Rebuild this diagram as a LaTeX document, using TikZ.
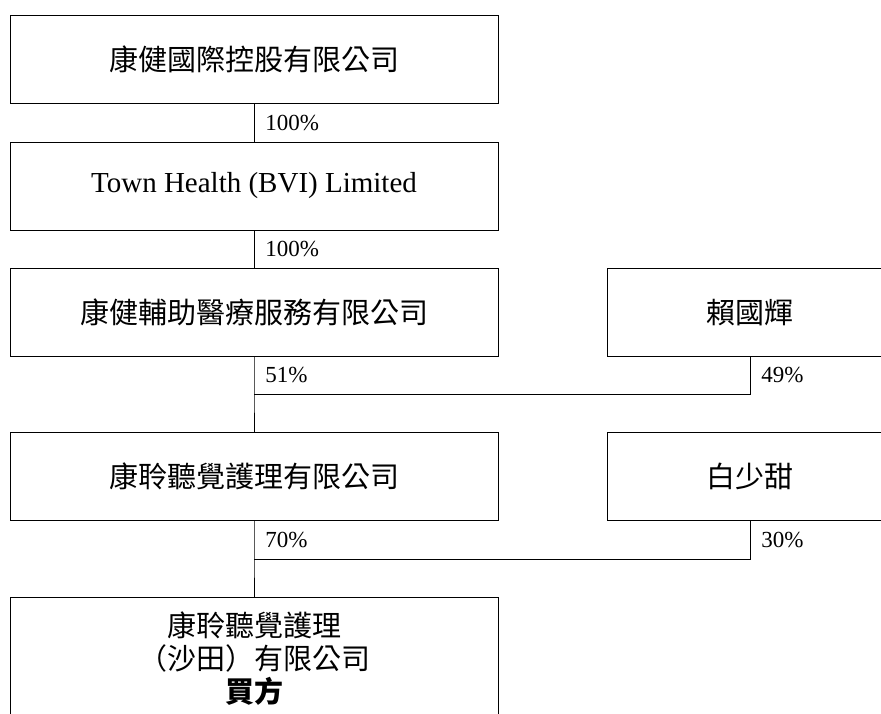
\documentclass[tikz,border=0pt]{standalone}
\usepackage{fontspec}
\setmainfont{Liberation Serif}
\newfontfamily\cjk{Noto Sans CJK TC}
\begin{document}
\begin{tikzpicture}[x=1pt,y=-1pt,line width=0.9pt,
    box/.style={draw,minimum width=488pt,minimum height=88pt,inner sep=0pt,
      font=\fontsize{29}{33}\selectfont},
    pct/.style={right,inner sep=0pt,xshift=11pt,font=\fontsize{23}{26}\selectfont}]
    \useasboundingbox (0,0) rectangle (881,713);
    \node[box] (A0_0) at (254,59) {\cjk 康健國際控股有限公司};
    \node[box] (A1_0) at (254,186) {Town Health (BVI) Limited};
    \node[box] (A2_0) at (254,312.5) {\cjk 康健輔助醫療服務有限公司};
    \node[box,minimum width=286pt] (A2_1) at (750,312.5) {\cjk 賴國輝};
    \node[box] (A3_0) at (254,476.5) {\cjk 康聆聽覺護理有限公司};
    \node[box,minimum width=286pt] (A3_1) at (750,476.5) {\cjk 白少甜};
    \node[box,minimum height=124pt,align=center,font=\fontsize{29}{33}\selectfont\cjk]
      (A4_0) at (254,659) {康聆聽覺護理\\（沙田）有限公司\\{\bfseries 買方}};
    \coordinate (J2) at (254,394);
    \coordinate (J3) at (254,559);
    \draw (A0_0) -- node[pct] {100\%} (A1_0);
    \draw (A1_0) -- node[pct] {100\%} (A2_0);
    \draw (A2_0) -- node[pct] {51\%} (J2) -- (A3_0);
    \draw (A2_1) -- node[pct] {49\%} (A2_1 |- J2) -- (J2);
    \draw (A3_0) -- node[pct] {70\%} (J3) -- (A4_0);
    \draw (A3_1) -- node[pct] {30\%} (A3_1 |- J3) -- (J3);
  \end{tikzpicture}
\end{document}
